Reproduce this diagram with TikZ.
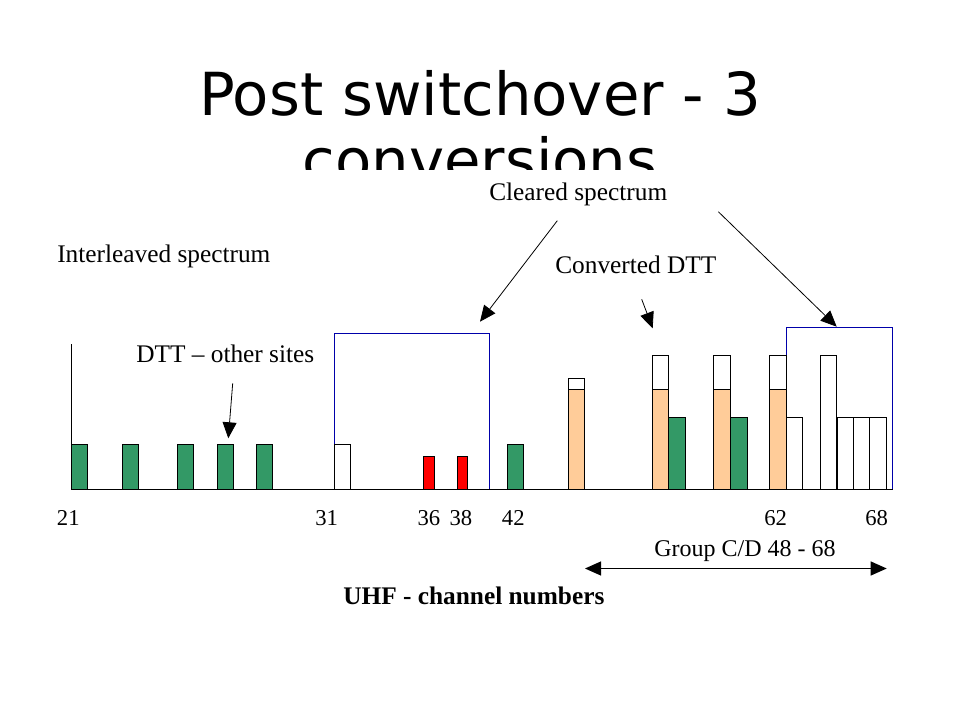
\documentclass[tikz,border=0pt]{standalone}
\usepackage{fontspec}
\setmainfont{Liberation Serif}
\newfontfamily\titlefont{DejaVu Sans}
\usetikzlibrary{arrows.meta}
\definecolor{dttgreen}{RGB}{51,153,102}
\definecolor{convorange}{RGB}{255,204,153}
\definecolor{boxblue}{RGB}{0,0,170}
\begin{document}
\begin{tikzpicture}[x=0.75pt,y=-0.75pt,
  lbl/.style={anchor=base west,inner sep=0pt,font=\fontsize{19}{22}\selectfont},
  num/.style={anchor=base west,inner sep=0pt,font=\fontsize{17}{20}\selectfont},
  bar/.style={draw=black,line width=0.75pt},
  greenbar/.style={bar,fill=dttgreen},
  redbar/.style={bar,fill=red},
  orangebar/.style={bar,fill=convorange},
  whitebar/.style={bar,fill=white},
  clearbox/.style={draw=boxblue,line width=0.9pt},
  axis/.style={draw=black,line width=1pt},
  pointer/.style={draw=black,line width=0.6pt,-{Triangle[length=12pt,width=10.5pt]}},
  span/.style={draw=black,line width=0.8pt,{Triangle[length=12pt,width=10.5pt]}-{Triangle[length=12pt,width=10.5pt]}}
]
\useasboundingbox (0,0) rectangle (960,720);
\fill[white] (0,0) rectangle (960,720);
% title (second line cut off)
\begin{scope}
  \clip (0,0) rectangle (960,170);
  \node[anchor=base,inner sep=0pt,font=\titlefont\fontsize{44.5}{50}\selectfont] (title1) at (480,116) {Post switchover - 3};
  \node[anchor=base,inner sep=0pt,font=\titlefont\fontsize{44.5}{50}\selectfont] (title2) at (480,182) {conversions};
\end{scope}
% blue boxes (cleared spectrum)
\draw[clearbox] (334.5,489.3) -- (334.5,333.5) -- (489.5,333.5) -- (489.5,489.3);
\draw[clearbox] (786.5,489.3) -- (786.5,327.5) -- (892.5,327.5) -- (892.5,489.3);
% green bars
\foreach \a/\b in {71.7/87.3,122.7/138.3,177.7/193.3,217.3/233.3,256.7/272.3,507.7/523.3}
  \draw[greenbar] (\a,489.3) rectangle (\b,444.3);
\foreach \a/\b in {668.3/685.3,730.3/747.3}
  \draw[greenbar] (\a,489.3) rectangle (\b,417.3);
% white bars
\draw[whitebar] (334.3,489.3) rectangle (350.7,444.3);
\foreach \a/\b in {786.3/802.3,837.3/853.3,853.3/869.7,869.7/886.3}
  \draw[whitebar] (\a,489.3) rectangle (\b,417.3);
\draw[whitebar] (820.7,489.3) rectangle (836.3,355);
% red bars
\foreach \a/\b in {423.3/434.7,457.3/467.7}
  \draw[redbar] (\a,489.3) rectangle (\b,456.3);
% converted (orange) bars with white tops
\draw[whitebar] (568.3,389.3) rectangle (584.3,378.3);
\draw[orangebar] (568.3,489.3) rectangle (584.3,389.3);
\foreach \a/\b in {652.3/668.3,713.3/730.3,769.3/786.3}{
  \draw[whitebar] (\a,389.3) rectangle (\b,355);
  \draw[orangebar] (\a,489.3) rectangle (\b,389.3);
}
% axes
\draw[axis] (71.7,344) -- (71.7,489.3) -- (892.7,489.3);
% labels
\node[lbl] (interleaved) at (57,263) {Interleaved spectrum};
\node[lbl] (dttother) at (136,362) {DTT -- other sites};
\node[lbl] (cleared) at (489,201) {Cleared spectrum};
\node[lbl] (converted) at (555,274) {Converted DTT};
% channel numbers
\node[num] (n21) at (56.7,525) {21};
\node[num] (n31) at (315,525) {31};
\node[num] (n36) at (417.3,525) {36};
\node[num] (n38) at (449.3,525) {38};
\node[num] (n42) at (501.7,525) {42};
\node[num] (n62) at (764,525) {62};
\node[num] (n68) at (865,525) {68};
\node[anchor=base west,inner sep=0pt,font=\fontsize{18}{21}\selectfont] (group) at (654,556.5) {Group C/D 48 - 68};
\node[anchor=base west,inner sep=0pt,font=\bfseries\fontsize{19}{22}\selectfont] (uhf) at (343,604) {UHF - channel numbers};
% arrows
\coordinate (dttA) at (232.7,383.3);
\coordinate (dttB) at (228.3,438.3);
\coordinate (clA) at (557.3,220.7);
\coordinate (clB) at (480,321.7);
\coordinate (crA) at (718.3,211.7);
\coordinate (crB) at (836.7,326.7);
\coordinate (cvA) at (641.7,299.3);
\coordinate (cvB) at (652.7,328.3);
\coordinate (gA) at (585,568.5);
\coordinate (gB) at (886.7,568.5);
\draw[pointer] (dttA) -- (dttB);
\draw[pointer] (clA) -- (clB);
\draw[pointer] (crA) -- (crB);
\draw[pointer] (cvA) -- (cvB);
\draw[span] (gA) -- (gB);
\end{tikzpicture}
\end{document}
